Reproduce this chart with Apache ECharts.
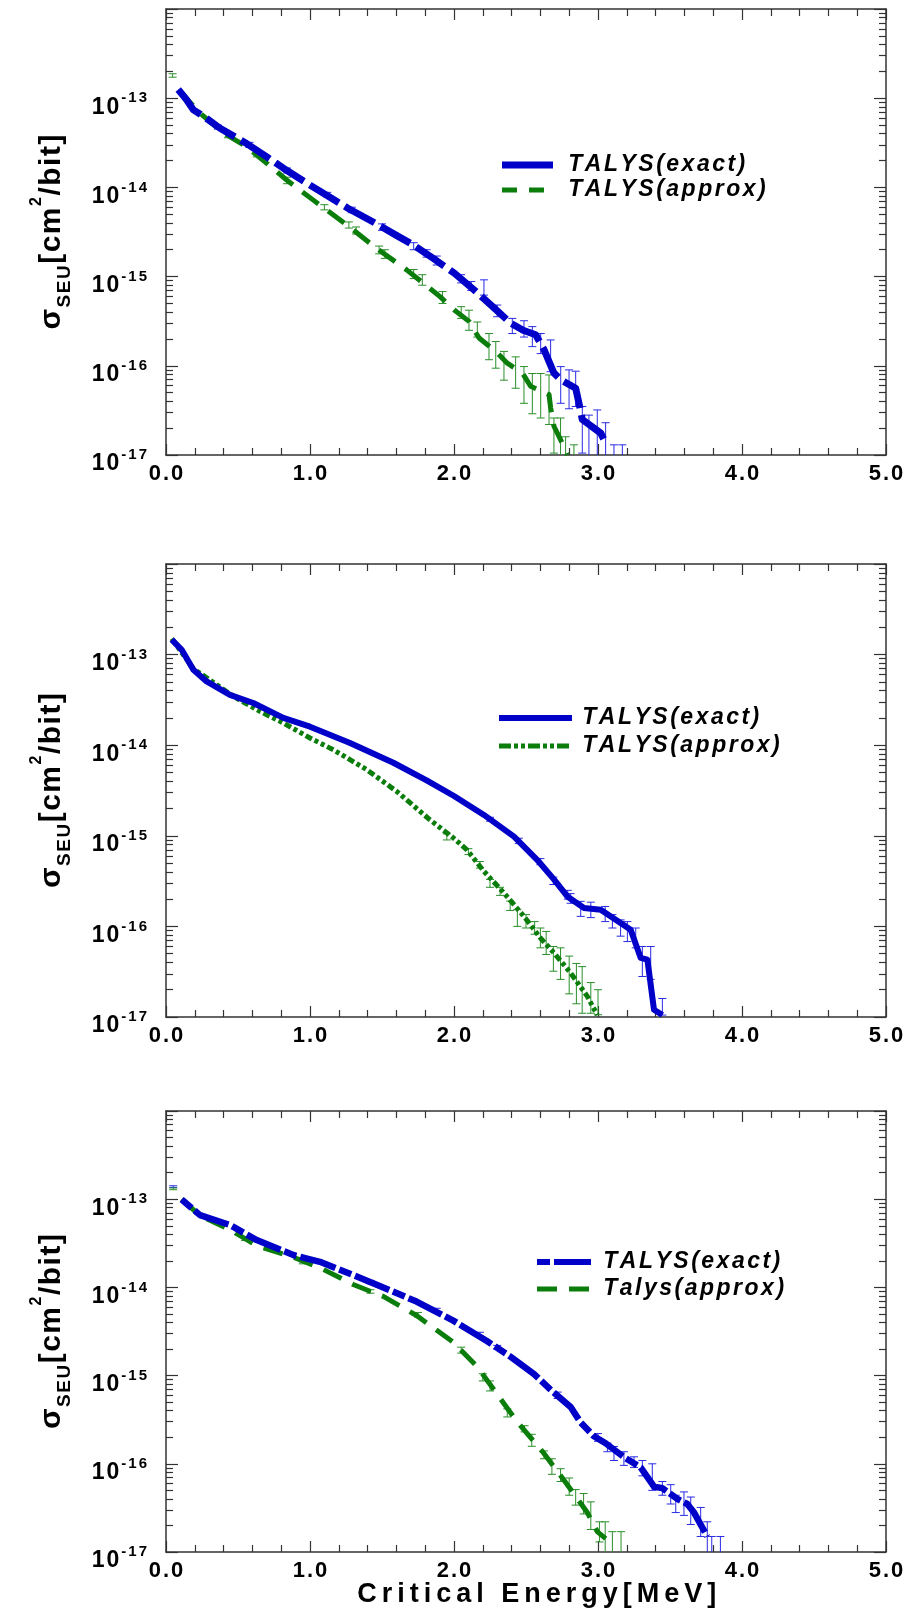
<!DOCTYPE html>
<html>
<head>
<meta charset="utf-8">
<title>SEU cross section vs critical energy</title>
<script src="https://cdn.jsdelivr.net/npm/echarts@6.0.0/dist/echarts.min.js"></script>
<style>
html,body{margin:0;padding:0;background:#ffffff;}
#chart{width:908px;height:1622px;}
</style>
</head>
<body>
<div id="chart"></div>
<script>
// ---------------- data ----------------
// x: critical energy [MeV]; y: SEU cross section [cm^2/bit]
const xTickLabels = ['0.0', '1.0', '2.0', '3.0', '4.0', '5.0'];
const yDecadeExponents = [-17, -16, -15, -14, -13, -12];
const yLabelledExponents = [-17, -16, -15, -14, -13];

const p1Names = ['TALYS(exact)', 'TALYS(approx)'];
const p2Names = ['TALYS(exact)', 'TALYS(approx)'];
const p3Names = ['TALYS(exact)', 'Talys(approx)'];
const xTitle = 'Critical Energy[MeV]';

// Panel 1
const p1Exact = [[0.085,1.25e-13],[0.143,9.6e-14],[0.19,7.4e-14],[0.26,6.3e-14],[0.375,4.6e-14],[0.56,3.1e-14],[0.70,2.2e-14],[0.815,1.64e-14],[1.0,1.06e-14],[1.13,7.9e-15],[1.266,5.8e-15],[1.463,3.9e-15],[1.6,2.9e-15],[1.718,2.26e-15],[1.856,1.6e-15],[2.0,1.1e-15],[2.139,7.1e-16],[2.278,4.45e-16],[2.394,3.0e-16],[2.48,2.5e-16],[2.567,2.23e-16],[2.625,1.52e-16],[2.694,8.3e-17],[2.74,7.0e-17],[2.845,5.6e-17],[2.868,3.8e-17],[2.891,2.5e-17],[2.972,2.0e-17],[3.019,1.76e-17],[3.053,1.36e-17]];
const p1Approx = [[0.09,1.2e-13],[0.109,1.13e-13],[0.236,6.8e-14],[0.387,4.2e-14],[0.56,2.86e-14],[0.70,1.86e-14],[0.838,1.21e-14],[1.023,7.2e-15],[1.255,3.8e-15],[1.463,2.07e-15],[1.671,1.19e-15],[1.903,5.96e-16],[2.0,4.26e-16],[2.104,3.15e-16],[2.174,2.05e-16],[2.29,1.45e-16],[2.37,1.07e-16],[2.475,8.3e-17],[2.532,5.9e-17],[2.66,4.75e-17],[2.671,3.4e-17],[2.694,2.1e-17],[2.74,1.49e-17],[2.787,1.0e-17]];
const p1ExactErr = [[0.36,4.5e-14,5.0e-14],[0.58,2.8e-14,3.2e-14],[0.84,1.45e-14,1.65e-14],[1.12,7.8e-15,8.8e-15],[1.29,5.2e-15,6.0e-15],[1.5,3.3e-15,3.9e-15],[1.72,2.0e-15,2.4e-15],[1.81,1.65e-15,2.0e-15],[1.88,1.35e-15,1.7e-15],[2.05,8.5e-16,1.05e-15],[2.12,7.0e-16,8.8e-16],[2.208,6.2e-16,9.2e-16],[2.30,3.55e-16,4.8e-16],[2.405,2.3e-16,3.4e-16],[2.486,2.1e-16,3.2e-16],[2.544,1.64e-16,2.75e-16],[2.602,1.37e-16,2.3e-16],[2.671,8.6e-17,1.95e-16],[2.741,3.8e-17,9.8e-17],[2.799,3.3e-17,9.0e-17],[2.845,3.5e-17,8.7e-17],[2.891,1.05e-17,3.5e-17],[2.937,5e-18,2.8e-17],[2.995,5e-18,3.2e-17],[3.053,5e-18,2.3e-17],[3.111,5e-18,1.3e-17],[3.169,5e-18,1.3e-17]];
const p1ApproxErr = [[0.046,1.72e-13,1.88e-13],[0.43,3.6e-14,4.0e-14],[0.63,2.2e-14,2.5e-14],[0.84,1.1e-14,1.3e-14],[1.1,5.6e-15,6.4e-15],[1.27,3.5e-15,4.1e-15],[1.32,3.0e-15,3.6e-15],[1.48,1.8e-15,2.2e-15],[1.52,1.6e-15,2.0e-15],[1.72,9.5e-16,1.2e-15],[1.78,8.0e-16,1.05e-15],[1.92,5.0e-16,6.8e-16],[2.05,3.4e-16,4.6e-16],[2.104,2.5e-16,4.2e-16],[2.162,2.1e-16,3.1e-16],[2.243,1.17e-16,2.3e-16],[2.29,9.4e-17,1.87e-16],[2.347,6.9e-17,1.45e-16],[2.428,5.6e-17,1.26e-16],[2.486,3.8e-17,9.8e-17],[2.544,2.9e-17,8.2e-17],[2.602,2.6e-17,8.2e-17],[2.66,2.2e-17,7.9e-17],[2.694,1.05e-17,2.6e-17],[2.74,5e-18,2.6e-17],[2.775,5e-18,1.6e-17],[2.833,5e-18,1.3e-17]];

// Panel 2
const p2Exact = [[0.04,1.46e-13],[0.109,1.13e-13],[0.19,6.8e-14],[0.282,5.06e-14],[0.444,3.6e-14],[0.606,2.92e-14],[0.815,2.0e-14],[1.0,1.6e-14],[1.278,1.06e-14],[1.579,6.4e-15],[1.81,4.1e-15],[2.0,2.75e-15],[2.208,1.7e-15],[2.417,9.8e-16],[2.579,5.4e-16],[2.694,3.3e-16],[2.787,2.14e-16],[2.903,1.6e-16],[3.019,1.53e-16],[3.157,1.09e-16],[3.227,9.2e-17],[3.296,4.5e-17],[3.343,4.3e-17],[3.389,1.2e-17],[3.447,1.05e-17]];
const p2Approx = [[0.04,1.5e-13],[0.19,7.0e-14],[0.468,3.46e-14],[0.653,2.36e-14],[0.815,1.76e-14],[1.0,1.2e-14],[1.162,8.9e-15],[1.394,5.37e-15],[1.602,3.09e-15],[1.833,1.5e-15],[1.995,9.5e-16],[2.09,7.0e-16],[2.208,4.05e-16],[2.347,2.34e-16],[2.486,1.29e-16],[2.602,7.4e-17],[2.694,5.1e-17],[2.81,3.06e-17],[2.926,1.69e-17],[2.995,1.05e-17]];
const p2ExactErr = [[2.25,1.45e-15,1.6e-15],[2.45,8.2e-16,9.4e-16],[2.6,4.8e-16,5.6e-16],[2.69,2.9e-16,3.5e-16],[2.79,2.0e-16,2.5e-16],[2.81,1.8e-16,2.3e-16],[2.88,1.29e-16,1.89e-16],[2.95,1.25e-16,1.85e-16],[3.05,1.13e-16,1.66e-16],[3.1,9.6e-17,1.35e-16],[3.157,7.8e-17,1.18e-16],[3.204,6.8e-17,1.13e-16],[3.262,5.8e-17,9.6e-17],[3.308,2.8e-17,6.0e-17],[3.366,2.6e-17,6.0e-17],[3.447,1.05e-17,1.6e-17]];
const p2ApproxErr = [[1.95,9.0e-16,1.05e-15],[2.1,6.2e-16,7.2e-16],[2.18,4.4e-16,5.2e-16],[2.25,2.7e-16,3.3e-16],[2.32,2.2e-16,2.7e-16],[2.39,1.5e-16,1.9e-16],[2.44,1.0e-16,1.53e-16],[2.5,9.6e-17,1.35e-16],[2.56,8.2e-17,1.13e-16],[2.6,5.8e-17,9.6e-17],[2.64,4.9e-17,8.8e-17],[2.69,3.2e-17,6.0e-17],[2.74,2.6e-17,5.8e-17],[2.8,1.8e-17,4.7e-17],[2.85,1.4e-17,3.9e-17],[2.89,1.1e-17,3.6e-17],[2.95,1.1e-17,2.4e-17],[3.0,1.06e-17,2.0e-17]];

// Panel 3
const p3Exact = [[0.109,9.9e-14],[0.236,6.6e-14],[0.444,5.1e-14],[0.63,3.44e-14],[0.884,2.33e-14],[1.069,1.95e-14],[1.3,1.38e-14],[1.509,1.0e-14],[1.74,6.9e-15],[1.995,4.2e-15],[2.231,2.45e-15],[2.394,1.63e-15],[2.556,1.04e-15],[2.672,6.9e-16],[2.81,4.4e-16],[2.88,2.94e-16],[2.972,2.05e-16],[3.053,1.71e-16],[3.18,1.19e-16],[3.296,9.1e-17],[3.389,5.5e-17],[3.447,5.3e-17],[3.551,4.0e-17],[3.62,3.5e-17],[3.667,2.8e-17],[3.759,1.5e-17]];
const p3Approx = [[0.109,1.0e-13],[0.236,6.5e-14],[0.444,4.5e-14],[0.63,2.98e-14],[0.884,2.2e-14],[1.069,1.67e-14],[1.3,1.08e-14],[1.509,7.9e-15],[1.74,4.8e-15],[1.995,2.39e-15],[2.162,1.26e-15],[2.301,6.1e-16],[2.44,2.97e-16],[2.625,1.31e-16],[2.787,5.8e-17],[2.926,2.8e-17],[2.995,1.7e-17],[3.053,1.42e-17]];
const p3ExactErr = [[0.05,1.36e-13,1.42e-13],[0.5,4.0e-14,4.4e-14],[0.95,1.95e-14,2.15e-14],[1.42,1.1e-14,1.2e-14],[1.88,5.2e-15,5.8e-15],[2.18,2.7e-15,3.1e-15],[2.3,2.0e-15,2.2e-15],[2.72,5.5e-16,6.5e-16],[3.0,1.8e-16,2.2e-16],[3.065,1.37e-16,1.72e-16],[3.111,1.09e-16,1.57e-16],[3.18,9.6e-17,1.37e-16],[3.25,9.1e-17,1.2e-16],[3.308,7.3e-17,1.09e-16],[3.377,5.0e-17,1.0e-16],[3.447,4.4e-17,6.3e-17],[3.505,3.5e-17,5.8e-17],[3.54,2.8e-17,4.4e-17],[3.597,2.6e-17,4.8e-17],[3.644,2.05e-17,4.2e-17],[3.713,1.5e-17,3.2e-17],[3.759,5e-18,2.2e-17],[3.79,5e-18,1.5e-17],[3.85,5e-18,1.5e-17]];
const p3ApproxErr = [[0.05,1.28e-13,1.34e-13],[0.55,3.4e-14,3.7e-14],[0.95,1.85e-14,2.0e-14],[1.42,8.6e-15,9.4e-15],[1.75,4.6e-15,5.2e-15],[2.05,1.8e-15,2.1e-15],[2.2,8.7e-16,1.05e-15],[2.25,6.7e-16,8.7e-16],[2.37,3.4e-16,4.2e-16],[2.49,2.3e-16,2.7e-16],[2.54,1.58e-16,2.16e-16],[2.625,1.14e-16,1.4e-16],[2.68,7.6e-17,1.14e-16],[2.74,6.3e-17,8.8e-17],[2.8,4.4e-17,6.9e-17],[2.845,3.4e-17,5.1e-17],[2.9,2.7e-17,4.6e-17],[2.95,1.8e-17,3.7e-17],[3.01,1.3e-17,2.2e-17],[3.05,5e-18,2.2e-17],[3.1,5e-18,1.7e-17],[3.16,5e-18,1.7e-17]];

// ---------------- presentation ----------------
// The log axis works in units of 1e-17 cm^2/bit (ECharts rounds very small log tick values).
const UNIT = 1e-17;
const FONT = '"Liberation Sans", Arial, Helvetica, sans-serif';
const AXIS_COLOR = '#333333';
const BLUE = '#0000c8';
const GREEN = '#0b7d0b';
const BLUE_ERR = '#2a2ae6';
const GREEN_ERR = '#2a8f2a';

function sp(text, style) {
  return Array.from(text).map(function (ch) { return '{' + style + '|' + ch + '}'; }).join('');
}

const panels = [
  {
    grid: {left: 166, top: 9, width: 720, height: 446},
    names: p1Names, exact: p1Exact, approx: p1Approx, exactErr: p1ExactErr, approxErr: p1ApproxErr,
    exactStyle: {width: 7, type: [34, 7]}, approxStyle: {width: 5, type: [20, 12]},
    legend: {x1: 502, x2: 553, tx: 567, y1: 165, y2: 190, w1: 7, w2: 5, d1: null, d2: [15, 12]}
  },
  {
    grid: {left: 166, top: 564, width: 720, height: 453},
    names: p2Names, exact: p2Exact, approx: p2Approx, exactErr: p2ExactErr, approxErr: p2ApproxErr,
    exactStyle: {width: 6, type: 'solid'}, approxStyle: {width: 5, type: [7, 3, 4, 3, 4, 3]},
    legend: {x1: 499, x2: 572, tx: 581, y1: 718, y2: 746, w1: 6, w2: 5, d1: null, d2: [12, 3, 4, 3, 4, 3]}
  },
  {
    grid: {left: 166, top: 1111, width: 720, height: 441},
    names: p3Names, exact: p3Exact, approx: p3Approx, exactErr: p3ExactErr, approxErr: p3ApproxErr,
    exactStyle: {width: 6.5, type: [13, 4, 37, 4]}, approxStyle: {width: 5, type: [20, 12]},
    legend: {x1: 537, x2: 591, tx: 602, y1: 1262, y2: 1289, w1: 6, w2: 5, d1: [13, 4, 40, 4], d2: [20, 12]}
  }
];

function xAxisCfg(gi, pos, showLabels) {
  return {
    type: 'value', gridIndex: gi, position: pos, min: 0, max: 5, interval: 1,
    axisLine: {show: true, onZero: false, lineStyle: {color: AXIS_COLOR, width: 1.5}},
    axisTick: {show: true, inside: true, length: 11, lineStyle: {color: AXIS_COLOR, width: 1.2}},
    minorTick: {show: true, splitNumber: 5, length: 7, lineStyle: {color: AXIS_COLOR, width: 1.2}},
    splitLine: {show: false}, minorSplitLine: {show: false},
    axisLabel: {
      show: showLabels, margin: 8,
      formatter: function (v) { return sp(xTickLabels[Math.round(v)], 'x'); },
      rich: {x: {fontFamily: FONT, fontWeight: 'bold', fontSize: 22, lineHeight: 22, color: '#000', padding: [0, 1, 0, 1]}}
    }
  };
}

function yAxisCfg(gi, pos, showLabels) {
  return {
    type: 'log', logBase: 10, gridIndex: gi, position: pos,
    min: Math.pow(10, yDecadeExponents[0]) / UNIT,
    max: Math.pow(10, yDecadeExponents[yDecadeExponents.length - 1]) / UNIT,
    splitNumber: yDecadeExponents.length - 1,
    axisLine: {show: true, onZero: false, lineStyle: {color: AXIS_COLOR, width: 1.5}},
    axisTick: {show: true, inside: true, length: 12, lineStyle: {color: AXIS_COLOR, width: 1.2}},
    minorTick: {show: true, splitNumber: 9, length: 7, lineStyle: {color: AXIS_COLOR, width: 1.2}},
    splitLine: {show: false}, minorSplitLine: {show: false},
    axisLabel: {
      show: showLabels, margin: 18,
      formatter: function (v) {
        const e = Math.round(Math.log10(v * UNIT));
        if (yLabelledExponents.indexOf(e) < 0) return '';
        return sp('10', 'b') + sp(String(e), 's');
      },
      rich: {
        b: {fontFamily: FONT, fontWeight: 'bold', fontSize: 23, lineHeight: 23, color: '#000', verticalAlign: 'top', padding: [9, 1, 13, 1]},
        s: {fontFamily: FONT, fontWeight: 'bold', fontSize: 15, lineHeight: 15, color: '#000', verticalAlign: 'top', padding: [4, 1, 0, 1]}
      }
    }
  };
}

function errRender(color) {
  return function (params, api) {
    const e = api.value(0), lo = api.value(1), hi = api.value(2);
    const a = api.coord([e, hi]);
    const b = api.coord([e, lo]);
    const hw = 4;
    const st = {stroke: color, lineWidth: 1};
    return {
      type: 'group',
      children: [
        {type: 'line', shape: {x1: a[0], y1: a[1], x2: b[0], y2: b[1]}, style: st},
        {type: 'line', shape: {x1: a[0] - hw, y1: a[1], x2: a[0] + hw, y2: a[1]}, style: st},
        {type: 'line', shape: {x1: b[0] - hw, y1: b[1], x2: b[0] + hw, y2: b[1]}, style: st}
      ]
    };
  };
}

function toAxis(arr) { return arr.map(function (d) { return [d[0], d[1] / UNIT]; }); }
function errToAxis(arr) { return arr.map(function (d) { return [d[0], d[1] / UNIT, d[2] / UNIT]; }); }

const legendRich = {
  lb: {fontFamily: FONT, fontWeight: 'bold', fontStyle: 'italic', fontSize: 23, lineHeight: 23, color: BLUE, padding: [0, 1.25, 0, 1.25]},
  lg: {fontFamily: FONT, fontWeight: 'bold', fontStyle: 'italic', fontSize: 23, lineHeight: 23, color: GREEN, padding: [0, 1.25, 0, 1.25]}
};
const titleRich = {
  m: {fontFamily: FONT, fontWeight: 'bold', fontSize: 30, lineHeight: 30, color: '#000', verticalAlign: 'top', padding: [15, 0.75, 0, 0.75]},
  u: {fontFamily: FONT, fontWeight: 'bold', fontSize: 19, lineHeight: 19, color: '#000', verticalAlign: 'top', padding: [34, 0.75, 0, 0.75]},
  p: {fontFamily: FONT, fontWeight: 'bold', fontSize: 16, lineHeight: 16, color: '#000', verticalAlign: 'top', padding: [7, 0.75, 0, 0.75]}
};
const yTitleText = sp('σ', 'm') + sp('SEU', 'u') + sp('[cm', 'm') + sp('2', 'p') + sp('/bit]', 'm');

const option = {
  animation: false,
  backgroundColor: '#ffffff',
  grid: [], xAxis: [], yAxis: [], series: [], graphic: []
};

panels.forEach(function (p, i) {
  option.grid.push(Object.assign({containLabel: false}, p.grid));
  const xi = option.xAxis.length;
  option.xAxis.push(xAxisCfg(i, 'bottom', true), xAxisCfg(i, 'top', false));
  const yi = option.yAxis.length;
  option.yAxis.push(yAxisCfg(i, 'left', true), yAxisCfg(i, 'right', false));

  option.series.push(
    {type: 'custom', name: p.names[0] + ' error', xAxisIndex: xi, yAxisIndex: yi, clip: true, silent: true,
     data: errToAxis(p.exactErr), encode: {x: 0, y: [1, 2]}, renderItem: errRender(BLUE_ERR), z: 2},
    {type: 'custom', name: p.names[1] + ' error', xAxisIndex: xi, yAxisIndex: yi, clip: true, silent: true,
     data: errToAxis(p.approxErr), encode: {x: 0, y: [1, 2]}, renderItem: errRender(GREEN_ERR), z: 2},
    {type: 'line', name: p.names[1], xAxisIndex: xi, yAxisIndex: yi, data: toAxis(p.approx),
     showSymbol: false, symbol: 'none', clip: true, silent: true, z: 3,
     lineStyle: {color: GREEN, width: p.approxStyle.width, type: p.approxStyle.type, cap: 'butt', join: 'round'}},
    {type: 'line', name: p.names[0], xAxisIndex: xi, yAxisIndex: yi, data: toAxis(p.exact),
     showSymbol: false, symbol: 'none', clip: true, silent: true, z: 4,
     lineStyle: {color: BLUE, width: p.exactStyle.width, type: p.exactStyle.type, cap: 'butt', join: 'round'}}
  );

  const L = p.legend;
  option.graphic.push(
    {type: 'line', silent: true, shape: {x1: L.x1, y1: L.y1, x2: L.x2, y2: L.y1},
     style: {stroke: BLUE, lineWidth: L.w1, lineDash: L.d1 || null, lineCap: 'butt'}},
    {type: 'line', silent: true, shape: {x1: L.x1, y1: L.y2, x2: L.x2, y2: L.y2},
     style: {stroke: GREEN, lineWidth: L.w2, lineDash: L.d2 || null, lineCap: 'butt'}},
    {type: 'text', silent: true, x: L.tx, y: L.y1,
     style: {text: sp(p.names[0], 'lb'), rich: legendRich, align: 'left', verticalAlign: 'middle', textAlign: 'left', textVerticalAlign: 'middle'}},
    {type: 'text', silent: true, x: L.tx, y: L.y2,
     style: {text: sp(p.names[1], 'lg'), rich: legendRich, align: 'left', verticalAlign: 'middle', textAlign: 'left', textVerticalAlign: 'middle'}},
    {type: 'text', silent: true, x: 36.4, y: p.grid.top + p.grid.height / 2, rotation: Math.PI / 2,
     style: {text: yTitleText, rich: titleRich, align: 'center', verticalAlign: 'middle', textAlign: 'center', textVerticalAlign: 'middle'}}
  );
});

option.graphic.push({
  type: 'text', silent: true, x: 536.7, y: 1594.5,
  style: {
    text: sp(xTitle, 't'),
    rich: {t: {fontFamily: FONT, fontWeight: 'bold', fontSize: 27, lineHeight: 27, color: '#000', padding: [0, 2.5, 0, 2.5]}},
    align: 'center', verticalAlign: 'middle', textAlign: 'center', textVerticalAlign: 'middle'
  }
});

const chart = echarts.init(document.getElementById('chart'), null, {renderer: 'canvas', width: 908, height: 1622});
chart.setOption(option);
</script>
</body>
</html>
